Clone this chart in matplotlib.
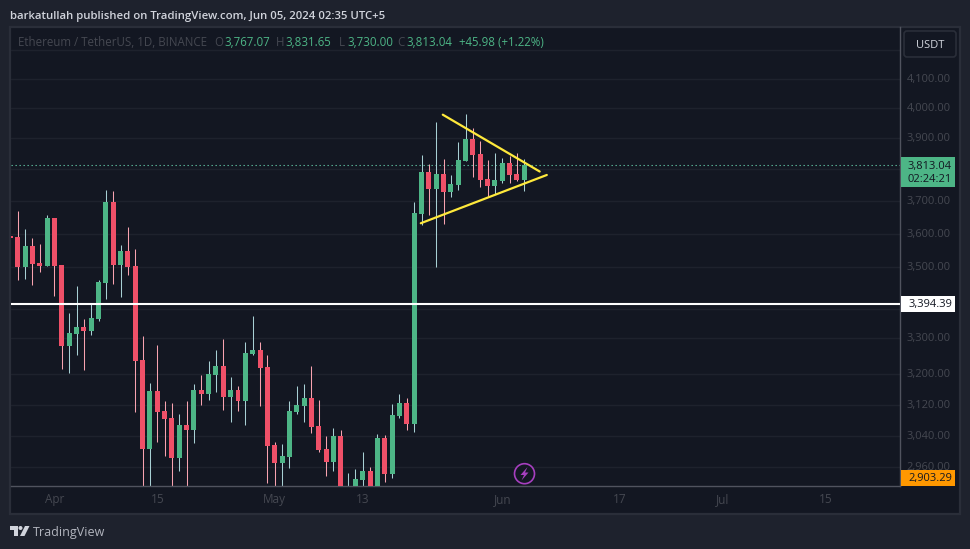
import numpy as np
import matplotlib
matplotlib.use("Agg")
import matplotlib.pyplot as plt
from matplotlib.patches import Rectangle, FancyBboxPatch, Polygon, Circle
from matplotlib.ticker import NullLocator, NullFormatter
from matplotlib.transforms import ScaledTranslation

plt.rcParams['font.family'] = ['Open Sans', 'DejaVu Sans']

W, H = 970, 549

# daily ETH/USDT candles, first one is Mar 27 2024
opens = [3590, 3501, 3563, 3512, 3504, 3647, 3507, 3277, 3310, 3329, 3318, 3351, 3454, 3696,
         3507, 3548, 3504, 3238, 3006, 3155, 3103, 3085, 2983, 3067, 3054, 3158, 3147, 3198,
         3222, 3140, 3158, 3129, 3255, 3266, 3219, 3016, 2971, 2986, 3100, 3116, 3137, 3064,
         3006, 2973, 3039, 2902, 2902, 2929, 2951, 2907, 3034, 2943, 3090, 3124, 3069, 3660,
         3791, 3737, 3784, 3728, 3750, 3826, 3897, 3848, 3768, 3746, 3762, 3819, 3784, 3767.07]
highs = [3669, 3614, 3587, 3569, 3656, 3647, 3507, 3368, 3445, 3351, 3396, 3463, 3734, 3731,
         3566, 3620, 3554, 3304, 3177, 3279, 3129, 3124, 3095, 3129, 3174, 3198, 3236, 3266,
         3296, 3193, 3169, 3288, 3360, 3288, 3252, 3023, 3018, 3129, 3169, 3174, 3222, 3132,
         3039, 3059, 3054, 2946, 2956, 2998, 2961, 3044, 3041, 3121, 3147, 3137, 3696, 3845,
         3816, 3953, 3832, 3781, 3887, 3979, 3933, 3890, 3829, 3851, 3835, 3842, 3851, 3831.65]
lows = [3463, 3466, 3448, 3486, 3504, 3417, 3214, 3203, 3252, 3211, 3307, 3346, 3408, 3451,
        3414, 3477, 3100, 2895, 2902, 3023, 2988, 2897, 2951, 2892, 3021, 3119, 3132, 3153,
        3106, 3074, 3103, 3067, 3252, 3116, 2921, 2895, 2895, 2958, 3095, 3074, 3046, 2998,
        2939, 2951, 2887, 2887, 2895, 2897, 2892, 2895, 2924, 2934, 3085, 3054, 3049, 3626,
        3656, 3501, 3629, 3712, 3734, 3826, 3775, 3743, 3712, 3721, 3756, 3756, 3762, 3730.00]
closes = [3501, 3563, 3509, 3504, 3647, 3504, 3277, 3312, 3329, 3318, 3354, 3457, 3696, 3507,
          3548, 3501, 3236, 3006, 3155, 3100, 3082, 2983, 3067, 3054, 3158, 3147, 3201, 3222,
          3140, 3158, 3129, 3257, 3266, 3217, 3013, 2971, 2988, 3103, 3119, 3137, 3062, 3003,
          2973, 3039, 2902, 2907, 2931, 2951, 2902, 3034, 2943, 3093, 3124, 3069, 3663, 3790,
          3737, 3784, 3728, 3753, 3829, 3897, 3845, 3765, 3746, 3765, 3819, 3781, 3765, 3813.04]

# Mar 26 candle, only its edge is on screen
prev_x, prev_open, prev_close = -1, 3592, 3587

price_ticks = [4200, 4100, 4000, 3900, 3800, 3700, 3600, 3500, 3380, 3300, 3200, 3120, 3040, 2960]
# these levels only get a grid line, the scale labels sit on top of them
unlabelled = [4200, 3800, 3380]
date_ticks = [5, 19, 35, 47, 66, 82, 96, 110]
date_labels = ['Apr', '15', 'May', '13', 'Jun', '17', 'Jul', '15']

last_price = 3813.04
support = 3394.39
low_label = 2903.29

# triangle drawn over the last two weeks
upper_x, upper_y = [57.9, 71.1], [3978, 3793]
lower_x, lower_y = [54.9, 72.07], [3632, 3782]

BG = '#131722'
OUTER = '#1e222d'
BORDER = '#2a2e39'
UP = '#4db586'
DOWN = '#ef5068'
UP_WICK = '#a8d0d4'
DOWN_WICK = '#f8a3b0'
DIM = '#454851'

fig = plt.figure(figsize=((W + 0.01) / 100, (H + 0.01) / 100), dpi=100, facecolor=OUTER)

# pixel space layers under and over the chart
under = fig.add_axes([0, 0, 1, 1], zorder=0)
over = fig.add_axes([0, 0, 1, 1], zorder=2)
for a in (under, over):
    a.set_xlim(0, W)
    a.set_ylim(H, 0)
    a.axis('off')
over.patch.set_alpha(0)

under.add_patch(Rectangle((10, 27), 950, 487, facecolor=BG, edgecolor=BORDER, linewidth=1.6))

left, right, top, bottom = 10.5, 900.3, 27, 486.3
ax = fig.add_axes([left / W, 1 - bottom / H, (right - left) / W, (bottom - top) / H], zorder=1)
ax.patch.set_alpha(0)
ax.set_yscale('log')
ax.set_xlim(-0.994, 120.232)
ax.set_ylim(2913.4, 4281.4)

ax.yaxis.set_minor_locator(NullLocator())
ax.yaxis.set_minor_formatter(NullFormatter())
ax.yaxis.tick_right()
ax.set_yticks(price_ticks)
ax.set_yticklabels(['' if p in unlabelled else f'{p:,.2f}' for p in price_ticks])
ax.set_xticks(date_ticks)
ax.set_xticklabels(date_labels)
ax.tick_params(axis='y', length=0, pad=4.6, labelsize=8, labelcolor=DIM)
ax.tick_params(axis='x', length=0, pad=5, labelsize=8.5, labelcolor=DIM)
# nudge the scale labels up a pixel from their grid lines
for t in ax.get_yticklabels():
    t.set_transform(t.get_transform() + ScaledTranslation(0, 1 / 100, fig.dpi_scale_trans))
ax.grid(axis='y', color=OUTER, linewidth=1.0)
ax.set_axisbelow(True)
for side in ('top', 'left'):
    ax.spines[side].set_visible(False)
for side in ('bottom', 'right'):
    ax.spines[side].set_color('#50535e')
    ax.spines[side].set_linewidth(1.0)

xs = np.arange(len(closes))
o = np.array(opens)
c = np.array(closes)
hi = np.array(highs)
lo = np.array(lows)
rising = c >= o

ax.vlines(xs[rising], lo[rising], hi[rising], color=UP_WICK, linewidth=0.75, zorder=2)
ax.vlines(xs[~rising], lo[~rising], hi[~rising], color=DOWN_WICK, linewidth=0.75, zorder=2)
ax.bar(xs[rising], (c - o)[rising], bottom=o[rising], width=0.68, color=UP, linewidth=0, zorder=3)
ax.bar(xs[~rising], (o - c)[~rising], bottom=c[~rising], width=0.68, color=DOWN, linewidth=0, zorder=3)
ax.bar([prev_x], [prev_open - prev_close], bottom=[prev_close], width=0.68, color=DOWN, linewidth=0, zorder=3)

ax.axhline(last_price, color='#5fbfa0', linewidth=0.8, dashes=(1.2, 2.4), zorder=1)
ax.axhline(support, color='white', linewidth=1.5, zorder=4)
ax.plot(upper_x, upper_y, color='#ffe93b', linewidth=1.6, zorder=5, solid_capstyle='round')
ax.plot(lower_x, lower_y, color='#ffe93b', linewidth=1.6, zorder=5, solid_capstyle='round')


def price_y(p):
    return H - ax.transData.transform((0, p))[1]


def label_box(y0, y1, color):
    over.add_patch(Rectangle((900.5, y0), 54.5, y1 - y0, facecolor=color, edgecolor='none'))


# labels on the price scale
y = price_y(last_price)
label_box(y - 8.2, y + 21.5, UP)
over.text(952, y + 0.8, f'{last_price:,.2f}', ha='right', va='center', color=BG, fontsize=8)
over.text(952, y + 14, '02:24:21', ha='right', va='center', color=BG, fontsize=8)
y = price_y(support)
label_box(y - 8, y + 8, 'white')
over.text(952, y + 0.8, f'{support:,.2f}', ha='right', va='center', color=BG, fontsize=8)
label_box(470, 486, '#ff9800')
over.text(952, 478.8, f'{low_label:,.2f}', ha='right', va='center', color=BG, fontsize=8)

over.add_patch(FancyBboxPatch((906, 33), 48, 22, boxstyle='round,pad=2,rounding_size=3',
                              facecolor=BG, edgecolor=BORDER, linewidth=1.2))
over.text(930, 45, 'USDT', ha='center', va='center', color='#d1d4dc', fontsize=8)

# header and OHLC legend
over.text(10, 16, 'barkatullah published on TradingView.com, Jun 05, 2024 02:35 UTC+5',
          ha='left', va='center', color='#d1d4dc', fontsize=8.2, fontweight='semibold')
legend = [(18, 'Ethereum / TetherUS, 1D, BINANCE', DIM),
          (214, 'O', DIM), (224, '3,767.07', UP),
          (276, 'H', DIM), (285, '3,831.65', UP),
          (339, 'L', DIM), (347, '3,730.00', UP),
          (397, 'C', DIM), (406, '3,813.04', UP),
          (459, '+45.98 (+1.22%)', UP)]
for x, txt, col in legend:
    over.text(x, 42.5, txt, ha='left', va='center', color=col, fontsize=8.3)

# lightning marker
over.add_patch(Circle((524.5, 473.7), 10, facecolor=BG, edgecolor='#a63fbf', linewidth=1.2))
over.add_patch(Polygon([(527.5, 467), (520.5, 475), (524, 475), (521.5, 480.5),
                        (528.5, 472.5), (525, 472.5)], closed=True, facecolor='#a63fbf', edgecolor='none'))

# TradingView logo
logo = '#d1d4dc'
over.add_patch(Polygon([(10, 526), (18, 526), (18, 536), (14, 536), (14, 530), (10, 530)],
                       closed=True, facecolor=logo, edgecolor='none'))
over.add_patch(Circle((20.5, 528), 2, facecolor=logo, edgecolor='none'))
over.add_patch(Polygon([(25, 526), (29.5, 526), (24.5, 536), (20, 536)],
                       closed=True, facecolor=logo, edgecolor='none'))
over.text(33, 532.5, 'TradingView', ha='left', va='center', color='#b2b5be', fontsize=9)

fig.savefig('out.png', dpi=100, facecolor=fig.get_facecolor())
